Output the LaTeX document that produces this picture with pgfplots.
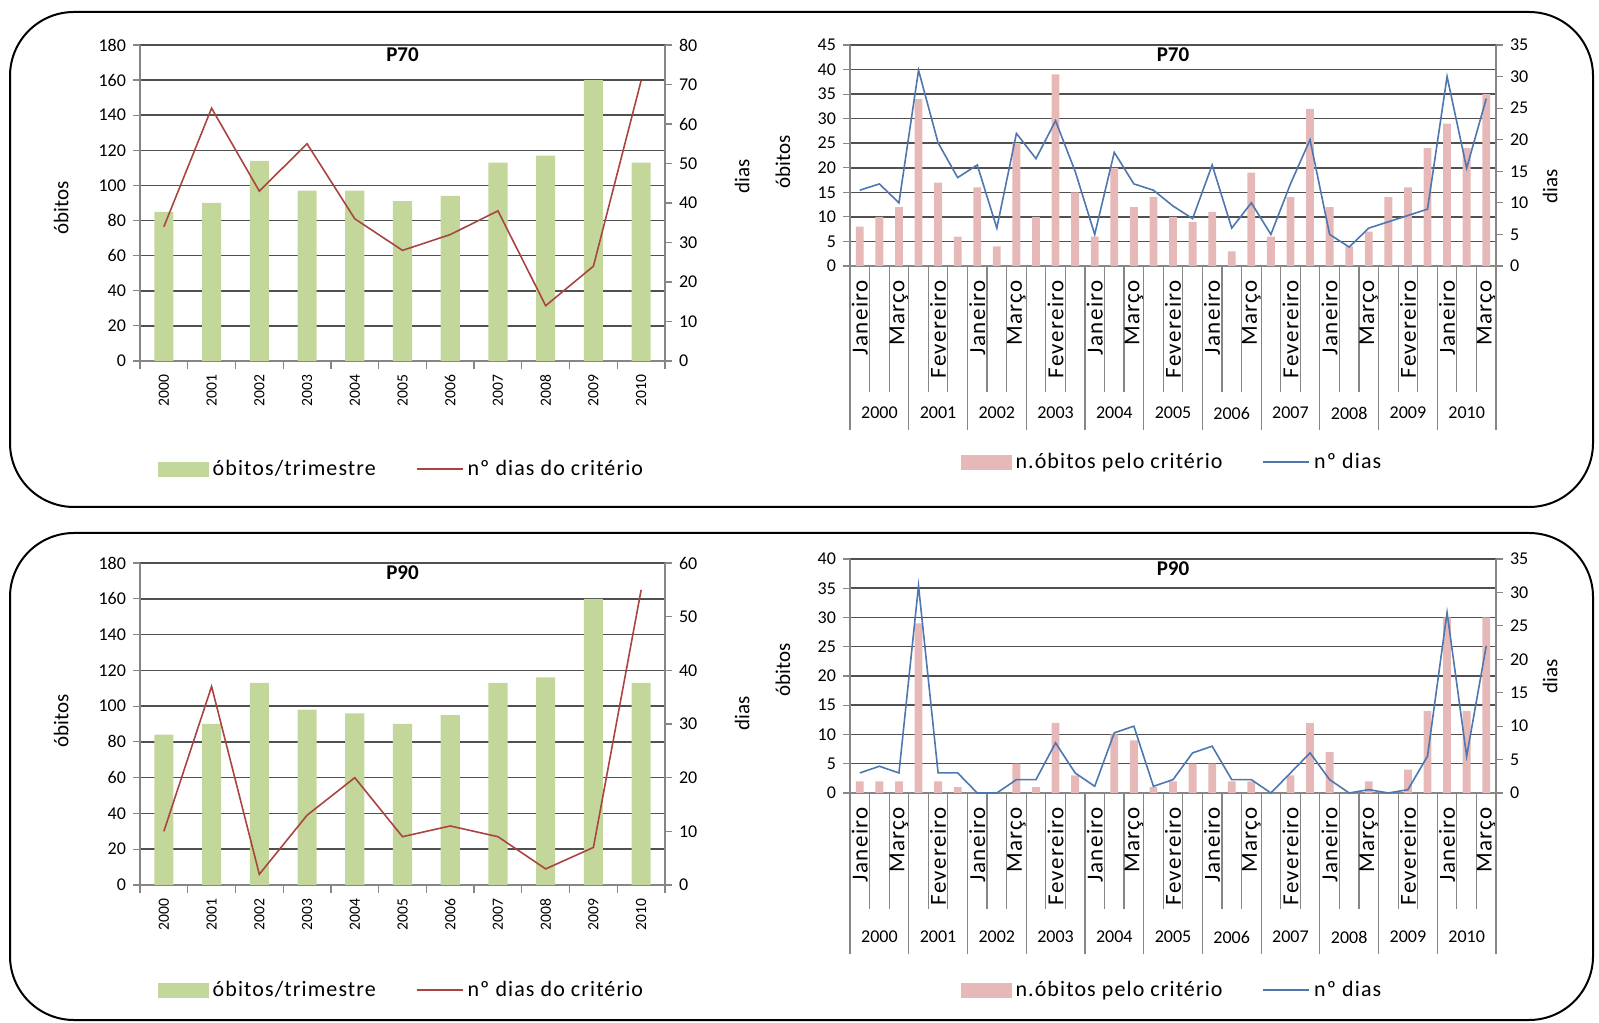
\documentclass[border=0pt]{standalone}
\usepackage{pgfplots}
\pgfplotsset{compat=1.18}
\usepackage{pgfplotstable}
\usepackage{fontspec}
\setmainfont{Carlito}
\newfontfamily\legfam[LetterSpace=5]{Carlito}
\newfontfamily\monfam[LetterSpace=6]{Carlito}

\definecolor{barG}{RGB}{196,215,155}
\definecolor{barP}{RGB}{230,184,183}
\definecolor{lineR}{RGB}{170,68,66}
\definecolor{lineB}{RGB}{78,118,175}
\definecolor{gridc}{RGB}{80,80,80}
\definecolor{axc}{RGB}{134,134,134}

\pgfplotstableread{
x ob dias
0 85 34
1 90 64
2 114 43
3 97 55
4 97 36
5 91 28
6 94 32
7 113 38
8 117 14
9 160 24
10 113 71
}\tlP

\pgfplotstableread{
x ob dias
0 84 10
1 90 37
2 113 2
3 98 13
4 96 20
5 90 9
6 95 11
7 113 9
8 116 3
9 160 7
10 113 55
}\blP

\pgfplotstableread{
x ob dias
0 8 12
1 10 13
2 12 10
3 34 31
4 17 19.5
5 6 14
6 16 16
7 4 6
8 25 21
9 10 17
10 39 23
11 15 15
12 6 5
13 20 18
14 12 13
15 14 12
16 10 9.5
17 9 7.5
18 11 16
19 3 6
20 19 10
21 6 5
22 14 13
23 32 20
24 12 5
25 4 3
26 7 6
27 14 7
28 16 8
29 24 9
30 29 30
31 24 15.5
32 35 26.5
}\trP

\pgfplotstableread{
x ob dias
0 2 3
1 2 4
2 2 3
3 29 31
4 2 3
5 1 3
6 0 0
7 0 0
8 5 2
9 1 2
10 12 7.5
11 3 3
12 0 1
13 10 9
14 9 10
15 1 1
16 2 2
17 5 6
18 5 7
19 2 2
20 2 2
21 0 0
22 3 3
23 12 6
24 7 2
25 0 0
26 2 0.5
27 0 0
28 4 0.5
29 14 5.5
30 30 27
31 14 5.5
32 30 22
}\brP

\newcommand{\tickfont}{\fontsize{9}{10}\selectfont}
\newcommand{\yrfont}{\fontsize{7.8}{9}\selectfont}
\newcommand{\labfont}{\legfam\fontsize{11}{12}\selectfont}
\newcommand{\ylfont}{\fontsize{10.5}{12}\selectfont}
\newcommand{\monfont}{\monfam\fontsize{11.5}{12}\selectfont}

\pgfplotsset{
  base/.style={
    scale only axis, anchor=south west, clip=false,
    /pgf/number format/assume math mode=true,
    tick label style={font=\tickfont},
    axis line style={axc, line width=0.6pt, -},
    tick style={axc, line width=0.6pt},
    major tick length=3.5pt,
    tick align=outside,
    title style={at={(0.5,1)}, anchor=north, yshift=-4pt, font=\fontsize{10.5}{12}\selectfont\bfseries},
  },
  ylab/.style 2 args={every axis y label/.style={at={(axis description cs:#1,#2)}, rotate=90, anchor=center, font=\ylfont}},
  leg/.style={legend style={at={(0.5,#1)}, anchor=center, draw=none, fill=none, legend columns=2, font=\labfont, /tikz/every even column/.append style={column sep=18pt}}, legend cell align=left},
  left1/.style={axis x line*=bottom, axis y line*=left, ymajorgrids, grid style={gridc, line width=0.75pt}},
  right2/.style={axis x line=none, axis y line*=right},
  yearax/.style={xmin=-0.5, xmax=10.5, xtick={0,...,10},
    xticklabels={2000,2001,2002,2003,2004,2005,2006,2007,2008,2009,2010},
    xticklabel style={rotate=90, anchor=east, font=\yrfont},
    major x tick style={draw=none},
    minor xtick={-0.5,0.5,...,10.5}, minor tick length=4pt},
  monax/.style 2 args={xmin=-0.5, xmax=32.5, xtick={0,2,...,32},
    xticklabels={Janeiro,Março,Fevereiro,Janeiro,Março,Fevereiro,Janeiro,Março,Fevereiro,Janeiro,Março,Fevereiro,Janeiro,Março,Fevereiro,Janeiro,Março},
    xticklabel style={rotate=90, anchor=east, font=\monfont},
    major x tick style={draw=none},
    minor xtick={-0.5,0.5,...,32.5}, minor tick length=#1,
    extra x ticks={-0.5,2.5,...,32.5}, extra x tick labels={},
    extra x tick style={major tick length=#2, major x tick style={draw=axc}}},
}

\begin{document}
\begin{tikzpicture}
\useasboundingbox (0,0) rectangle (799.5pt,511pt);
\draw[line width=1pt, rounded corners=32pt] (5pt,257.5pt) rectangle (796.5pt,505pt);
\draw[line width=1pt, rounded corners=32pt] (5pt,1pt) rectangle (796.5pt,244.5pt);

% ---------- top left P70 ----------
\begin{axis}[base, left1, yearax, at={(70pt,330.5pt)}, width=262.5pt, height=158pt,
  ymin=0, ymax=180, ytick={0,20,...,180}, title={P70},
  ylabel={óbitos}, ylab={-0.150}{0.484}]
\addplot[ybar, bar width=0.4, fill=barG, draw=none] table[x=x,y=ob]{\tlP};
\end{axis}
\begin{axis}[base, right2, at={(70pt,330.5pt)}, width=262.5pt, height=158pt,
  xmin=-0.5, xmax=10.5, ymin=0, ymax=80, ytick={0,10,...,80},
  ylabel={dias}, ylab={1.147}{0.585}, leg={-0.342}]
\addlegendimage{legend image code/.code={\fill[barG] (0pt,-3.5pt) rectangle (25pt,3.5pt);}}
\addlegendentry{óbitos/trimestre}
\addplot[lineR, line width=0.8pt, legend image code/.code={\draw[lineR, line width=0.8pt] (0pt,0pt) -- (23pt,0pt);}] table[x=x,y=dias]{\tlP};
\addlegendentry{nº dias do critério}
\end{axis}

% ---------- bottom left P90 ----------
\begin{axis}[base, left1, yearax, at={(70pt,68.5pt)}, width=262.5pt, height=161pt,
  ymin=0, ymax=180, ytick={0,20,...,180}, title={P90},
  ylabel={óbitos}, ylab={-0.150}{0.51}]
\addplot[ybar, bar width=0.4, fill=barG, draw=none] table[x=x,y=ob]{\blP};
\end{axis}
\begin{axis}[base, right2, at={(70pt,68.5pt)}, width=262.5pt, height=161pt,
  xmin=-0.5, xmax=10.5, ymin=0, ymax=60, ytick={0,10,...,60},
  ylabel={dias}, ylab={1.147}{0.534}, leg={-0.326}]
\addlegendimage{legend image code/.code={\fill[barG] (0pt,-3.5pt) rectangle (25pt,3.5pt);}}
\addlegendentry{óbitos/trimestre}
\addplot[lineR, line width=0.8pt, legend image code/.code={\draw[lineR, line width=0.8pt] (0pt,0pt) -- (23pt,0pt);}] table[x=x,y=dias]{\blP};
\addlegendentry{nº dias do critério}
\end{axis}

% ---------- top right P70 ----------
\begin{axis}[base, left1, monax={63pt}{82pt}, at={(425pt,378pt)}, width=323pt, height=110.5pt,
  ymin=0, ymax=45, ytick={0,5,...,45}, title={P70},
  ylabel={óbitos}, ylab={-0.104}{0.47}]
\addplot[ybar, bar width=0.4, fill=barP, draw=none] table[x=x,y=ob]{\trP};
\node[font=\tickfont, yshift=-73.5pt] at (axis cs:1,0) {2000};
\node[font=\tickfont, yshift=-73.5pt] at (axis cs:4,0) {2001};
\node[font=\tickfont, yshift=-73.5pt] at (axis cs:7,0) {2002};
\node[font=\tickfont, yshift=-73.5pt] at (axis cs:10,0) {2003};
\node[font=\tickfont, yshift=-73.5pt] at (axis cs:13,0) {2004};
\node[font=\tickfont, yshift=-73.5pt] at (axis cs:16,0) {2005};
\node[font=\tickfont, yshift=-73.5pt] at (axis cs:19,0) {2006};
\node[font=\tickfont, yshift=-73.5pt] at (axis cs:22,0) {2007};
\node[font=\tickfont, yshift=-73.5pt] at (axis cs:25,0) {2008};
\node[font=\tickfont, yshift=-73.5pt] at (axis cs:28,0) {2009};
\node[font=\tickfont, yshift=-73.5pt] at (axis cs:31,0) {2010};
\end{axis}
\begin{axis}[base, right2, at={(425pt,378pt)}, width=323pt, height=110.5pt,
  xmin=-0.5, xmax=32.5, ymin=0, ymax=35, ytick={0,5,...,35},
  ylabel={dias}, ylab={1.084}{0.36}, leg={-0.887}]
\addlegendimage{legend image code/.code={\fill[barP] (0pt,-3.5pt) rectangle (25pt,3.5pt);}}
\addlegendentry{n.óbitos pelo critério}
\addplot[lineB, line width=0.8pt, legend image code/.code={\draw[lineB, line width=0.8pt] (0pt,0pt) -- (23pt,0pt);}] table[x=x,y=dias]{\trP};
\addlegendentry{nº dias}
\end{axis}

% ---------- bottom right P90 ----------
\begin{axis}[base, left1, monax={58pt}{80.5pt}, at={(425pt,114.5pt)}, width=323pt, height=117pt,
  ymin=0, ymax=40, ytick={0,5,...,40}, title={P90},
  ylabel={óbitos}, ylab={-0.104}{0.526}]
\addplot[ybar, bar width=0.4, fill=barP, draw=none] table[x=x,y=ob]{\brP};
\node[font=\tickfont, yshift=-72pt] at (axis cs:1,0) {2000};
\node[font=\tickfont, yshift=-72pt] at (axis cs:4,0) {2001};
\node[font=\tickfont, yshift=-72pt] at (axis cs:7,0) {2002};
\node[font=\tickfont, yshift=-72pt] at (axis cs:10,0) {2003};
\node[font=\tickfont, yshift=-72pt] at (axis cs:13,0) {2004};
\node[font=\tickfont, yshift=-72pt] at (axis cs:16,0) {2005};
\node[font=\tickfont, yshift=-72pt] at (axis cs:19,0) {2006};
\node[font=\tickfont, yshift=-72pt] at (axis cs:22,0) {2007};
\node[font=\tickfont, yshift=-72pt] at (axis cs:25,0) {2008};
\node[font=\tickfont, yshift=-72pt] at (axis cs:28,0) {2009};
\node[font=\tickfont, yshift=-72pt] at (axis cs:31,0) {2010};
\end{axis}
\begin{axis}[base, right2, at={(425pt,114.5pt)}, width=323pt, height=117pt,
  xmin=-0.5, xmax=32.5, ymin=0, ymax=35, ytick={0,5,...,35},
  ylabel={dias}, ylab={1.084}{0.5}, leg={-0.842}]
\addlegendimage{legend image code/.code={\fill[barP] (0pt,-3.5pt) rectangle (25pt,3.5pt);}}
\addlegendentry{n.óbitos pelo critério}
\addplot[lineB, line width=0.8pt, legend image code/.code={\draw[lineB, line width=0.8pt] (0pt,0pt) -- (23pt,0pt);}] table[x=x,y=dias]{\brP};
\addlegendentry{nº dias}
\end{axis}
\end{tikzpicture}
\end{document}
